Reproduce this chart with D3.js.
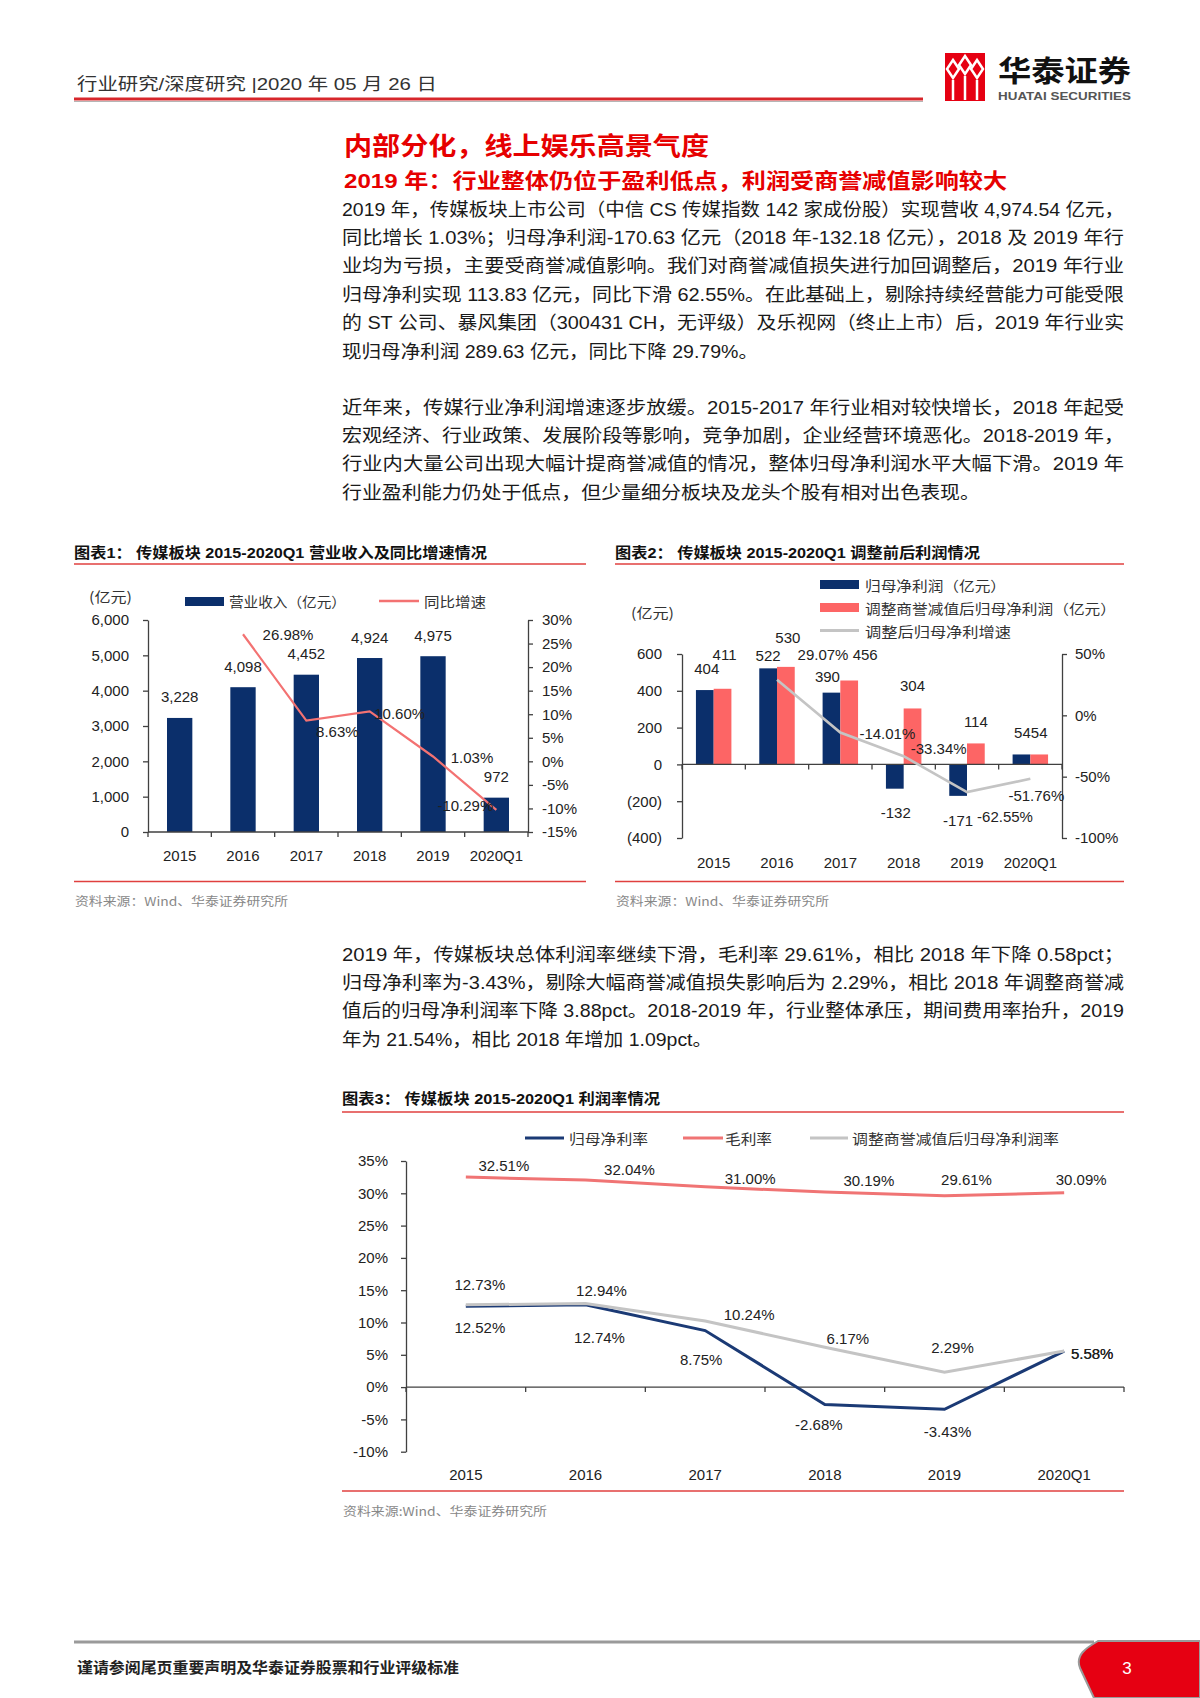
<!DOCTYPE html>
<html><head><meta charset="utf-8">
<script src="https://cdn.jsdelivr.net/npm/d3@7"></script>
<style>
body{margin:0;background:#fff}
</style></head><body>
<svg id="page" width="1200" height="1698"></svg>
<script>
// ---- data ----
const years=['2015','2016','2017','2018','2019','2020Q1'];
const revenue=[3228,4098,4452,4924,4975,972];
const revenueGrowth=[null,26.98,8.63,10.60,1.03,-10.29];
const netProfit=[404,522,390,-132,-171,54];
const adjNetProfit=[411,530,456,304,114,54];
const adjProfitGrowth=[null,29.07,-14.01,-33.34,-62.55,-51.76];
const grossMargin=[32.51,32.04,31.00,30.19,29.61,30.09];
const netMargin=[12.52,12.74,8.75,-2.68,-3.43,5.58];
const adjNetMargin=[12.73,12.94,10.24,6.17,2.29,5.58];
const revTicks=[0,1000,2000,3000,4000,5000,6000];
const revGrowthTicks=[-15,-10,-5,0,5,10,15,20,25,30];
const profitTicks=[-400,-200,0,200,400,600];
const profitGrowthTicks=[-100,-50,0,50];
const marginTicks=[-10,-5,0,5,10,15,20,25,30,35];

// label nudges (label centre relative to its mark)
const revGrowthOff=[null,[45,0],[31,11],[30,2],[39,1],[-31,-4]];
const npOff=[[2,-22],[0,-13],[-4,-16],[1,24],[0,25],[1,-22]];
const adjOff=[[2,-34],[2,-29],[16,-26],[0,-23],[0,-22],[0,-22]];
const adjGrowthOff=[null,[46,-25],[47,1],[35,-8],[38,24],[6,17]];
const grossOff=[[38,-12],[44,-11],[45,-8],[44,-12],[22,-16],[17,-13]];
const netOff=[[14,21],[14,33],[-4,29],[-6,20],[3,22],[28,2]];
const adjMOff=[[14,-20],[16,-13],[44,-6],[23,-9],[8,-25],[28,2]];

const NAVY='#0b2f6b', PINK='#f37272', REDBAR='#fd6565', GRAY='#c4c4c4', AX='#404040';
const CJK='"Noto Sans CJK SC","Liberation Sans",sans-serif';
const NUM='"Liberation Sans",Arial,"Noto Sans CJK SC",sans-serif';
const pct=d=>d.toFixed(2)+'%';
const thousands=d=>d3.format(',')(d).replace('\u2212','-');

const svg=d3.select('#page');
svg.append('rect').attr('width',1200).attr('height',1698).attr('fill','#fff');

function label(g,x,y,t,o={}){
  const s=g.append('text').attr('x',x).attr('y',y).text(t)
    .attr('font-size',o.size||15).attr('fill',o.fill||'#222')
    .attr('text-anchor',o.anchor||'middle').attr('dominant-baseline','central')
    .attr('font-family',o.family||NUM);
  if(o.weight) s.attr('font-weight',o.weight);
  if(o.len) s.attr('textLength',o.len).attr('lengthAdjust','spacingAndGlyphs');
  return s;
}
function hline(g,x0,x1,y,c,w){
  g.append('line').attr('x1',x0).attr('x2',x1).attr('y1',y).attr('y2',y).attr('stroke',c).attr('stroke-width',w);
}
function axisStyle(g){
  g.attr('font-size',15).attr('font-family',NUM).attr('color','#222');
  g.selectAll('path,line').attr('stroke',AX).attr('stroke-width',1.3);
}
function baseLine(g,x0,step,n,y){
  hline(g,x0,x0+step*n,y,AX,1.3);
  g.selectAll(null).data(d3.range(n+1)).join('line')
    .attr('x1',i=>x0+i*step).attr('x2',i=>x0+i*step)
    .attr('y1',y).attr('y2',y+5).attr('stroke',AX).attr('stroke-width',1.3);
}

// ---- header ----
label(svg,77,84,'行业研究/深度研究 |2020 年 05 月 26 日',{anchor:'start',size:17,fill:'#333',len:360});
hline(svg,74,923,99,'#d7262b',3);
hline(svg,74,923,101.5,'#b5b5b5',1);
const logo=svg.append('g');
logo.append('rect').attr('x',945).attr('y',53).attr('width',40).attr('height',48).attr('fill','#e60012');
[[953,60],[965,56],[977,60]].forEach(([cx,cy])=>{
  logo.append('path').attr('d',`M${cx},${cy} l6,9 l-6,9 l-6,-9 Z`).attr('fill','none').attr('stroke','#fff').attr('stroke-width',2.5);
  logo.append('line').attr('x1',cx).attr('x2',cx).attr('y1',cy+20).attr('y2',100).attr('stroke','#fff').attr('stroke-width',2.5);
});
label(svg,998,69,'华泰证券',{anchor:'start',size:29,weight:700,fill:'#111',family:CJK,len:133});
label(svg,998,95.5,'HUATAI SECURITIES',{anchor:'start',size:10.5,weight:700,fill:'#555',len:133});

// ---- titles & text ----
label(svg,344,144,'内部分化，线上娱乐高景气度',{anchor:'start',size:25,weight:700,fill:'#e60000',family:CJK,len:365});
label(svg,344,180,'2019 年：行业整体仍位于盈利低点，利润受商誉减值影响较大',{anchor:'start',size:21,weight:700,fill:'#e60000',len:663});

function para(lines,y0,lastLen){
  lines.forEach((t,i)=>{
    label(svg,342,y0+i*28.4,t,{anchor:'start',size:18.5,fill:'#1a1a1a',len:i===lines.length-1?lastLen:782});
  });
}
para(['2019 年，传媒板块上市公司（中信 CS 传媒指数 142 家成份股）实现营收 4,974.54 亿元，',
  '同比增长 1.03%；归母净利润-170.63 亿元（2018 年-132.18 亿元），2018 及 2019 年行',
  '业均为亏损，主要受商誉减值影响。我们对商誉减值损失进行加回调整后，2019 年行业',
  '归母净利实现 113.83 亿元，同比下滑 62.55%。在此基础上，剔除持续经营能力可能受限',
  '的 ST 公司、暴风集团（300431 CH，无评级）及乐视网（终止上市）后，2019 年行业实',
  '现归母净利润 289.63 亿元，同比下降 29.79%。'],209,416);
para(['近年来，传媒行业净利润增速逐步放缓。2015-2017 年行业相对较快增长，2018 年起受',
  '宏观经济、行业政策、发展阶段等影响，竞争加剧，企业经营环境恶化。2018-2019 年，',
  '行业内大量公司出现大幅计提商誉减值的情况，整体归母净利润水平大幅下滑。2019 年',
  '行业盈利能力仍处于低点，但少量细分板块及龙头个股有相对出色表现。'],407,638);
para(['2019 年，传媒板块总体利润率继续下滑，毛利率 29.61%，相比 2018 年下降 0.58pct；',
  '归母净利率为-3.43%，剔除大幅商誉减值损失影响后为 2.29%，相比 2018 年调整商誉减',
  '值后的归母净利润率下降 3.88pct。2018-2019 年，行业整体承压，期间费用率抬升，2019',
  '年为 21.54%，相比 2018 年增加 1.09pct。'],954,370);

// chart frames
label(svg,74,553,'图表1：  传媒板块 2015-2020Q1 营业收入及同比增速情况',{anchor:'start',size:14.5,weight:700,fill:'#111',len:413});
hline(svg,74,586,564,'#e0403f',1.6);
hline(svg,74,586,881.5,'#e0403f',1.6);
label(svg,75,900,'资料来源：Wind、华泰证券研究所',{anchor:'start',size:12,fill:'#888',family:CJK,len:213});
label(svg,615,553,'图表2：  传媒板块 2015-2020Q1 调整前后利润情况',{anchor:'start',size:14.5,weight:700,fill:'#111',len:365});
hline(svg,615,1124,564,'#e0403f',1.6);
hline(svg,615,1124,881.5,'#e0403f',1.6);
label(svg,616,900,'资料来源：Wind、华泰证券研究所',{anchor:'start',size:12,fill:'#888',family:CJK,len:213});
label(svg,342,1099,'图表3：  传媒板块 2015-2020Q1 利润率情况',{anchor:'start',size:14.5,weight:700,fill:'#111',len:318});
hline(svg,342,1124,1112,'#e0403f',1.6);
hline(svg,342,1124,1491,'#e0403f',1.6);
label(svg,343,1510,'资料来源:Wind、华泰证券研究所',{anchor:'start',size:12,fill:'#888',family:CJK,len:204});

// ---- chart 1 ----
const c1=svg.append('g');
const x1=d3.scaleBand().domain(years).range([148,528]).paddingInner(0.6).paddingOuter(0.3);
const y1=d3.scaleLinear().domain([0,6000]).range([832,620]);
const y1r=d3.scaleLinear().domain([-15,30]).range([832,620]);
c1.selectAll('rect.bar').data(years).join('rect').attr('class','bar')
  .attr('x',d=>x1(d)).attr('width',x1.bandwidth())
  .attr('y',(d,i)=>y1(revenue[i])).attr('height',(d,i)=>y1(0)-y1(revenue[i])).attr('fill',NAVY);
c1.append('g').attr('transform','translate(148,0)')
  .call(d3.axisLeft(y1).tickValues(revTicks).tickFormat(thousands).tickSize(5).tickSizeOuter(0).tickPadding(14)).call(axisStyle);
c1.append('g').attr('transform','translate(528,0)')
  .call(d3.axisRight(y1r).tickValues(revGrowthTicks).tickFormat(d=>d+'%').tickSize(5).tickSizeOuter(0).tickPadding(9)).call(axisStyle);
baseLine(c1,x1.range()[0],x1.step(),years.length,y1(0));
years.forEach((d,i)=>{
  const cx=x1(d)+x1.bandwidth()/2;
  label(c1,cx,855,d,{size:15});
  label(c1,cx,y1(revenue[i])-21,thousands(revenue[i]),{size:15});
});
const g1=years.map((d,i)=>({x:x1(d)+x1.bandwidth()/2,y:y1r(revenueGrowth[i]),v:revenueGrowth[i],o:revGrowthOff[i]})).filter(d=>d.v!=null);
c1.append('path').datum(g1).attr('fill','none').attr('stroke',PINK).attr('stroke-width',2.2)
  .attr('d',d3.line().x(d=>d.x).y(d=>d.y));
g1.forEach(d=>label(c1,d.x+d.o[0],d.y+d.o[1],pct(d.v),{size:15}));
label(c1,89,596,'(亿元)',{anchor:'start',size:14,fill:'#333',family:CJK,len:43});
c1.append('rect').attr('x',185).attr('y',597).attr('width',39).attr('height',9).attr('fill',NAVY);
label(c1,229,601,'营业收入（亿元）',{anchor:'start',size:14,fill:'#333',family:CJK,len:117});
hline(c1,379,419,601,PINK,2.5);
label(c1,424,601,'同比增速',{anchor:'start',size:14,fill:'#333',family:CJK,len:62});

// ---- chart 2 ----
const c2=svg.append('g');
const x2=d3.scaleBand().domain(years).range([682,1062]).paddingInner(0.44).paddingOuter(0.22);
const x2in=d3.scaleBand().domain(['np','adj']).range([0,x2.bandwidth()]);
const y2=d3.scaleLinear().domain([-400,600]).range([838,654]);
const y2r=d3.scaleLinear().domain([-100,50]).range([838,654]);
c2.append('g').attr('transform','translate(682,0)')
  .call(d3.axisLeft(y2).tickValues(profitTicks).tickFormat(d=>d<0?'('+Math.abs(d)+')':String(d)).tickSize(5).tickSizeOuter(0).tickPadding(15)).call(axisStyle);
c2.append('g').attr('transform','translate(1062,0)')
  .call(d3.axisRight(y2r).tickValues(profitGrowthTicks).tickFormat(d=>d+'%').tickSize(5).tickSizeOuter(0).tickPadding(8)).call(axisStyle);
[['np',netProfit,NAVY,npOff],['adj',adjNetProfit,REDBAR,adjOff]].forEach(([k,vals,col,off])=>{
  years.forEach((d,i)=>{
    const v=vals[i], bx=x2(d)+x2in(k), w=x2in.bandwidth();
    c2.append('rect').attr('x',bx).attr('width',w)
      .attr('y',y2(Math.max(0,v))).attr('height',Math.abs(y2(v)-y2(0))).attr('fill',col);
    label(c2,bx+w/2+off[i][0],y2(v)+off[i][1],String(v),{size:15});
  });
});
baseLine(c2,x2.range()[0],x2.step(),years.length,y2(0));
years.forEach(d=>label(c2,x2(d)+x2.bandwidth()/2,862,d,{size:15}));
const g2=years.map((d,i)=>({x:x2(d)+x2.bandwidth()/2,y:y2r(adjProfitGrowth[i]),v:adjProfitGrowth[i],o:adjGrowthOff[i]})).filter(d=>d.v!=null);
c2.append('path').datum(g2).attr('fill','none').attr('stroke',GRAY).attr('stroke-width',2.6)
  .attr('d',d3.line().x(d=>d.x).y(d=>d.y));
g2.forEach(d=>label(c2,d.x+d.o[0],d.y+d.o[1],pct(d.v),{size:15}));
label(c2,631,612,'(亿元)',{anchor:'start',size:14,fill:'#333',family:CJK,len:43});
c2.append('rect').attr('x',820).attr('y',580).attr('width',39).attr('height',9).attr('fill',NAVY);
label(c2,865,584.5,'归母净利润（亿元）',{anchor:'start',size:14,fill:'#333',family:CJK,len:141});
c2.append('rect').attr('x',820).attr('y',603).attr('width',39).attr('height',9).attr('fill',REDBAR);
label(c2,865,607.5,'调整商誉减值后归母净利润（亿元）',{anchor:'start',size:14,fill:'#333',family:CJK,len:251});
hline(c2,820,859,630.5,GRAY,3);
label(c2,865,630.5,'调整后归母净利增速',{anchor:'start',size:14,fill:'#333',family:CJK,len:146});

// ---- chart 3 ----
const c3=svg.append('g');
const x3=d3.scalePoint().domain(years).range([406,1124]).padding(0.5);
const y3=d3.scaleLinear().domain([-10,35]).range([1451.7,1161]);
c3.append('g').attr('transform','translate(406,0)')
  .call(d3.axisLeft(y3).tickValues(marginTicks).tickFormat(d=>d+'%').tickSize(5).tickSizeOuter(0).tickPadding(13)).call(axisStyle);
baseLine(c3,x3(years[0])-x3.step()/2,x3.step(),years.length,y3(0));
years.forEach(d=>label(c3,x3(d),1474,d,{size:15}));
const line3=d3.line().x(d=>d.x).y(d=>d.y);
[[netMargin,'#1b3a75',netOff],[grossMargin,'#f07474',grossOff],[adjNetMargin,GRAY,adjMOff]].forEach(([vals,col,off])=>{
  const pts=years.map((d,i)=>({x:x3(d),y:y3(vals[i]),v:vals[i],o:off[i]}));
  c3.append('path').datum(pts).attr('fill','none').attr('stroke',col).attr('stroke-width',3).attr('d',line3);
  pts.forEach(d=>label(c3,d.x+d.o[0],d.y+d.o[1],pct(d.v),{size:15}));
});
hline(c3,525,564,1138,'#1b3a75',3);
label(c3,569,1138,'归母净利率',{anchor:'start',size:14,fill:'#333',family:CJK,len:79});
hline(c3,683,723,1138,'#f07474',3);
label(c3,725,1138,'毛利率',{anchor:'start',size:14,fill:'#333',family:CJK,len:47});
hline(c3,810,848,1138,GRAY,3);
label(c3,852,1138,'调整商誉减值后归母净利润率',{anchor:'start',size:14,fill:'#333',family:CJK,len:207});

// ---- footer ----
hline(svg,74,1094,1642,'#9a9a9a',3);
svg.append('path').attr('d','M1098,1641 C1086,1648 1075,1655 1080,1668 L1094,1698 L1200,1698 L1200,1641 Z')
  .attr('fill','#e60012').attr('stroke','#9a9a9a').attr('stroke-width',2);
label(svg,1127,1668,'3',{size:17,fill:'#fff'});
label(svg,77,1666,'谨请参阅尾页重要声明及华泰证券股票和行业评级标准',{anchor:'start',size:15,weight:700,fill:'#222',family:CJK,len:382});
</script>
</body></html>
